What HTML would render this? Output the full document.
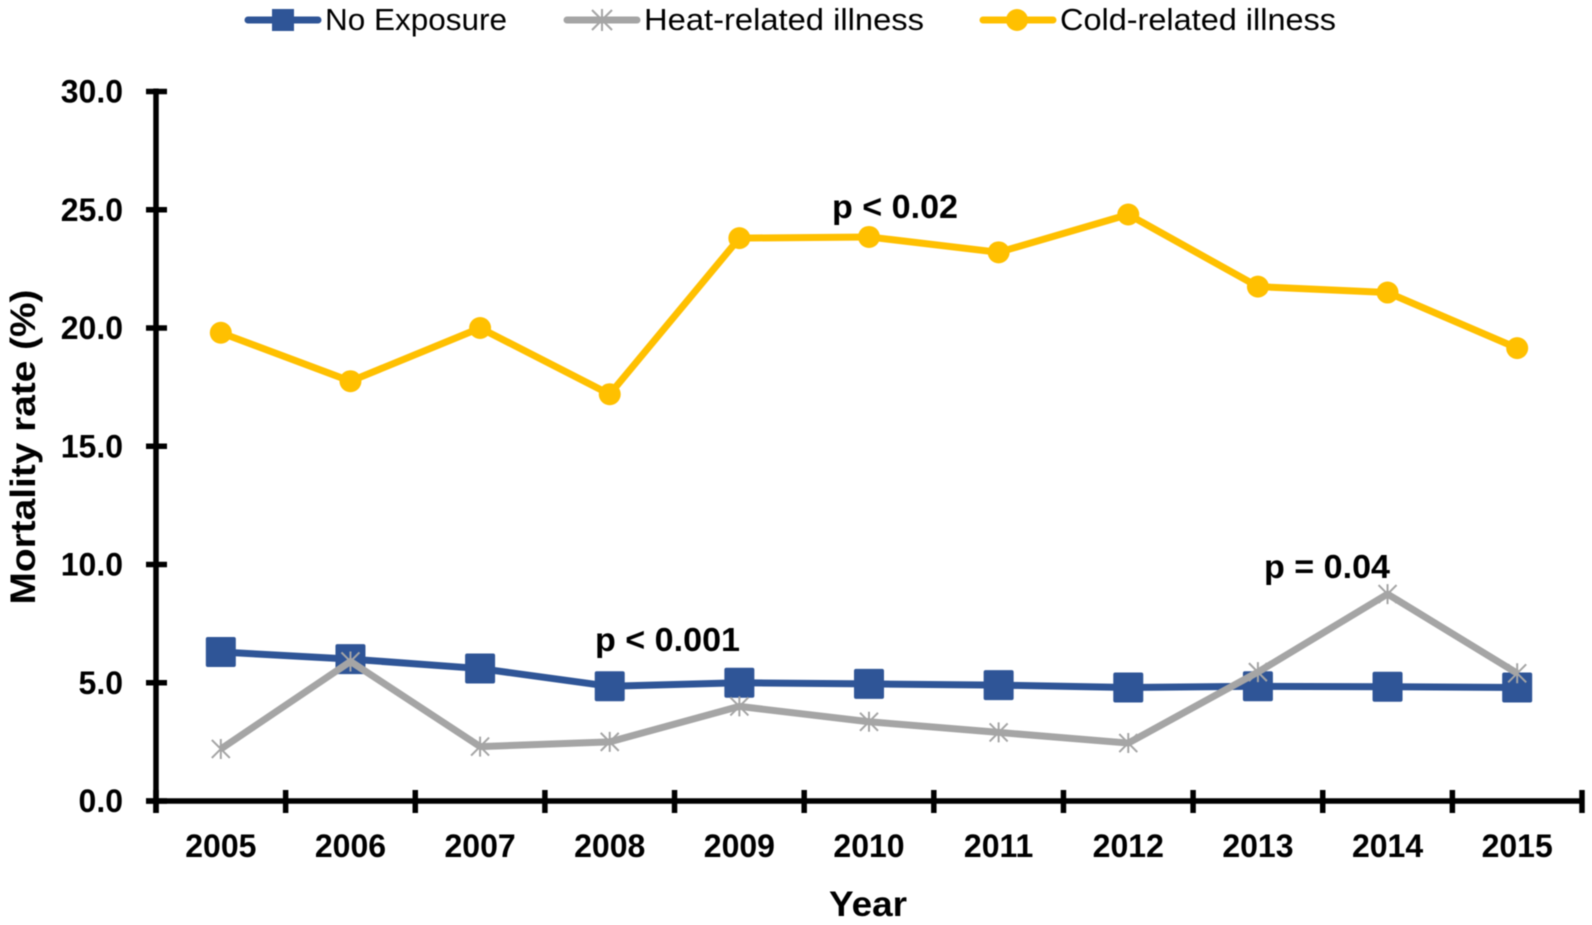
<!DOCTYPE html>
<html>
<head>
<meta charset="utf-8">
<title>Mortality rate by year</title>
<style>
html,body{margin:0;padding:0;background:#fff;width:1592px;height:925px;overflow:hidden}
svg{display:block;filter:blur(0.6px)}
text{font-family:"Liberation Sans",sans-serif;fill:#000}
.b{font-weight:bold}
</style>
</head>
<body>
<svg id="chart" xmlns="http://www.w3.org/2000/svg" width="1592" height="925" viewBox="0 0 1592 925">
  <g>
    <g>
      <line x1="248" y1="20" x2="318" y2="20" stroke="#2F5597" stroke-width="7" stroke-linecap="round"/>
      <rect x="272" y="9" width="22" height="22" fill="#2F5597"/>
      <text x="325" y="30" font-size="31" textLength="182" lengthAdjust="spacingAndGlyphs">No Exposure</text>
    </g>
    <g>
      <line x1="567" y1="20" x2="637" y2="20" stroke="#A5A5A5" stroke-width="7" stroke-linecap="round"/>
      <path d="M592 10L612 30M612 10L592 30M602 9V31" stroke="#A5A5A5" stroke-width="2" fill="none"/>
      <text x="644" y="30" font-size="31" textLength="280" lengthAdjust="spacingAndGlyphs">Heat-related illness</text>
    </g>
    <g>
      <line x1="983" y1="20" x2="1053" y2="20" stroke="#FFC000" stroke-width="7" stroke-linecap="round"/>
      <circle cx="1017" cy="20" r="11" fill="#FFC000"/>
      <text x="1060" y="30" font-size="31" textLength="276" lengthAdjust="spacingAndGlyphs">Cold-related illness</text>
    </g>
  </g>
  <g id="axes"></g>
  <g id="series"></g>
  <text class="b" transform="translate(35,447) rotate(-90)" text-anchor="middle" font-size="35" textLength="315" lengthAdjust="spacingAndGlyphs">Mortality rate (%)</text>
  <text class="b" x="868" y="916" text-anchor="middle" font-size="35" textLength="78" lengthAdjust="spacingAndGlyphs">Year</text>
  <text class="b" x="832" y="218" font-size="33" textLength="126" lengthAdjust="spacingAndGlyphs">p &lt; 0.02</text>
  <text class="b" x="595" y="651" font-size="33" textLength="145" lengthAdjust="spacingAndGlyphs">p &lt; 0.001</text>
  <text class="b" x="1264" y="578" font-size="33" textLength="126" lengthAdjust="spacingAndGlyphs">p = 0.04</text>
</svg>
<script>
const years = ["2005","2006","2007","2008","2009","2010","2011","2012","2013","2014","2015"];
const yTicks = [0,5,10,15,20,25,30];
const noExposure = [6.3,6.0,5.6,4.85,5.0,4.95,4.9,4.8,4.85,4.83,4.8];
const heatRelated = [2.2,5.9,2.3,2.5,4.0,3.35,2.9,2.45,5.45,8.75,5.4];
const coldRelated = [19.8,17.75,20.0,17.2,23.8,23.85,23.2,24.8,21.75,21.5,19.15];

const NS = "http://www.w3.org/2000/svg";
const left = 156, right = 1582, top_ = 91.5, bottom = 801, yMax = 30;
const step = (right - left) / years.length;
const xPos = i => left + step * (i + 0.5);
const yPos = v => bottom - (v / yMax) * (bottom - top_);
const axes = document.getElementById("axes");
const series = document.getElementById("series");

function mk(tag, attrs, parent) {
  const el = document.createElementNS(NS, tag);
  for (const k in attrs) el.setAttribute(k, attrs[k]);
  parent.appendChild(el);
  return el;
}

const yLine = mk("line", {x1:left, y1:top_-3, x2:left, y2:bottom+12, stroke:"#000", "stroke-width":5.5}, axes);


const xLine = mk("line", {x1:left-10, y1:bottom, x2:right, y2:bottom, stroke:"#000", "stroke-width":5.5}, axes);



yTicks.forEach(v => {
  const t = mk("line", {x1:left-10, y1:yPos(v), x2:left+11, y2:yPos(v), stroke:"#000", "stroke-width":5.5}, axes);
  
  
  const l = mk("text", {x:123, y:yPos(v)+11, "text-anchor":"end", "font-size":32, "font-weight":"bold"}, axes);
  l.textContent = v.toFixed(1);
  
  
});

for (let i = 0; i <= years.length; i++) {
  const x = left + step * i;
  const t = mk("line", {x1:x, y1:bottom-11, x2:x, y2:bottom+12, stroke:"#000", "stroke-width":5.5}, axes);
  
  
}
years.forEach((y, i) => {
  const l = mk("text", {x:xPos(i), y:857, "text-anchor":"middle", "font-size":32, "font-weight":"bold"}, axes);
  l.textContent = y;
  
  
});

function linePoints(values) {
  return values.map((v, i) => xPos(i) + "," + yPos(v)).join(" ");
}

// No exposure series
const blueGroup = mk("g", {}, series);


mk("polyline", {points:linePoints(noExposure), fill:"none", stroke:"#2F5597", "stroke-width":7, "stroke-linejoin":"round"}, blueGroup);
noExposure.forEach((v, i) => {
  const m = mk("rect", {x:xPos(i)-15, y:yPos(v)-15, width:30, height:30, rx:2, fill:"#2F5597"}, blueGroup);
  
  
});

// Heat-related series
const grayGroup = mk("g", {}, series);


mk("polyline", {points:linePoints(heatRelated), fill:"none", stroke:"#A5A5A5", "stroke-width":7, "stroke-linejoin":"round"}, grayGroup);
heatRelated.forEach((v, i) => {
  const x = xPos(i), y = yPos(v), r = 9;
  const m = mk("path", {d:`M${x-r} ${y-r}L${x+r} ${y+r}M${x+r} ${y-r}L${x-r} ${y+r}M${x} ${y-r-1}V${y+r+1}`, stroke:"#A5A5A5", "stroke-width":2, fill:"none"}, grayGroup);
  
  
});

// Cold-related series
const goldGroup = mk("g", {}, series);


mk("polyline", {points:linePoints(coldRelated), fill:"none", stroke:"#FFC000", "stroke-width":7, "stroke-linejoin":"round"}, goldGroup);
coldRelated.forEach((v, i) => {
  const m = mk("circle", {cx:xPos(i), cy:yPos(v), r:11, fill:"#FFC000"}, goldGroup);
  
  
});
</script>
</body>
</html>
